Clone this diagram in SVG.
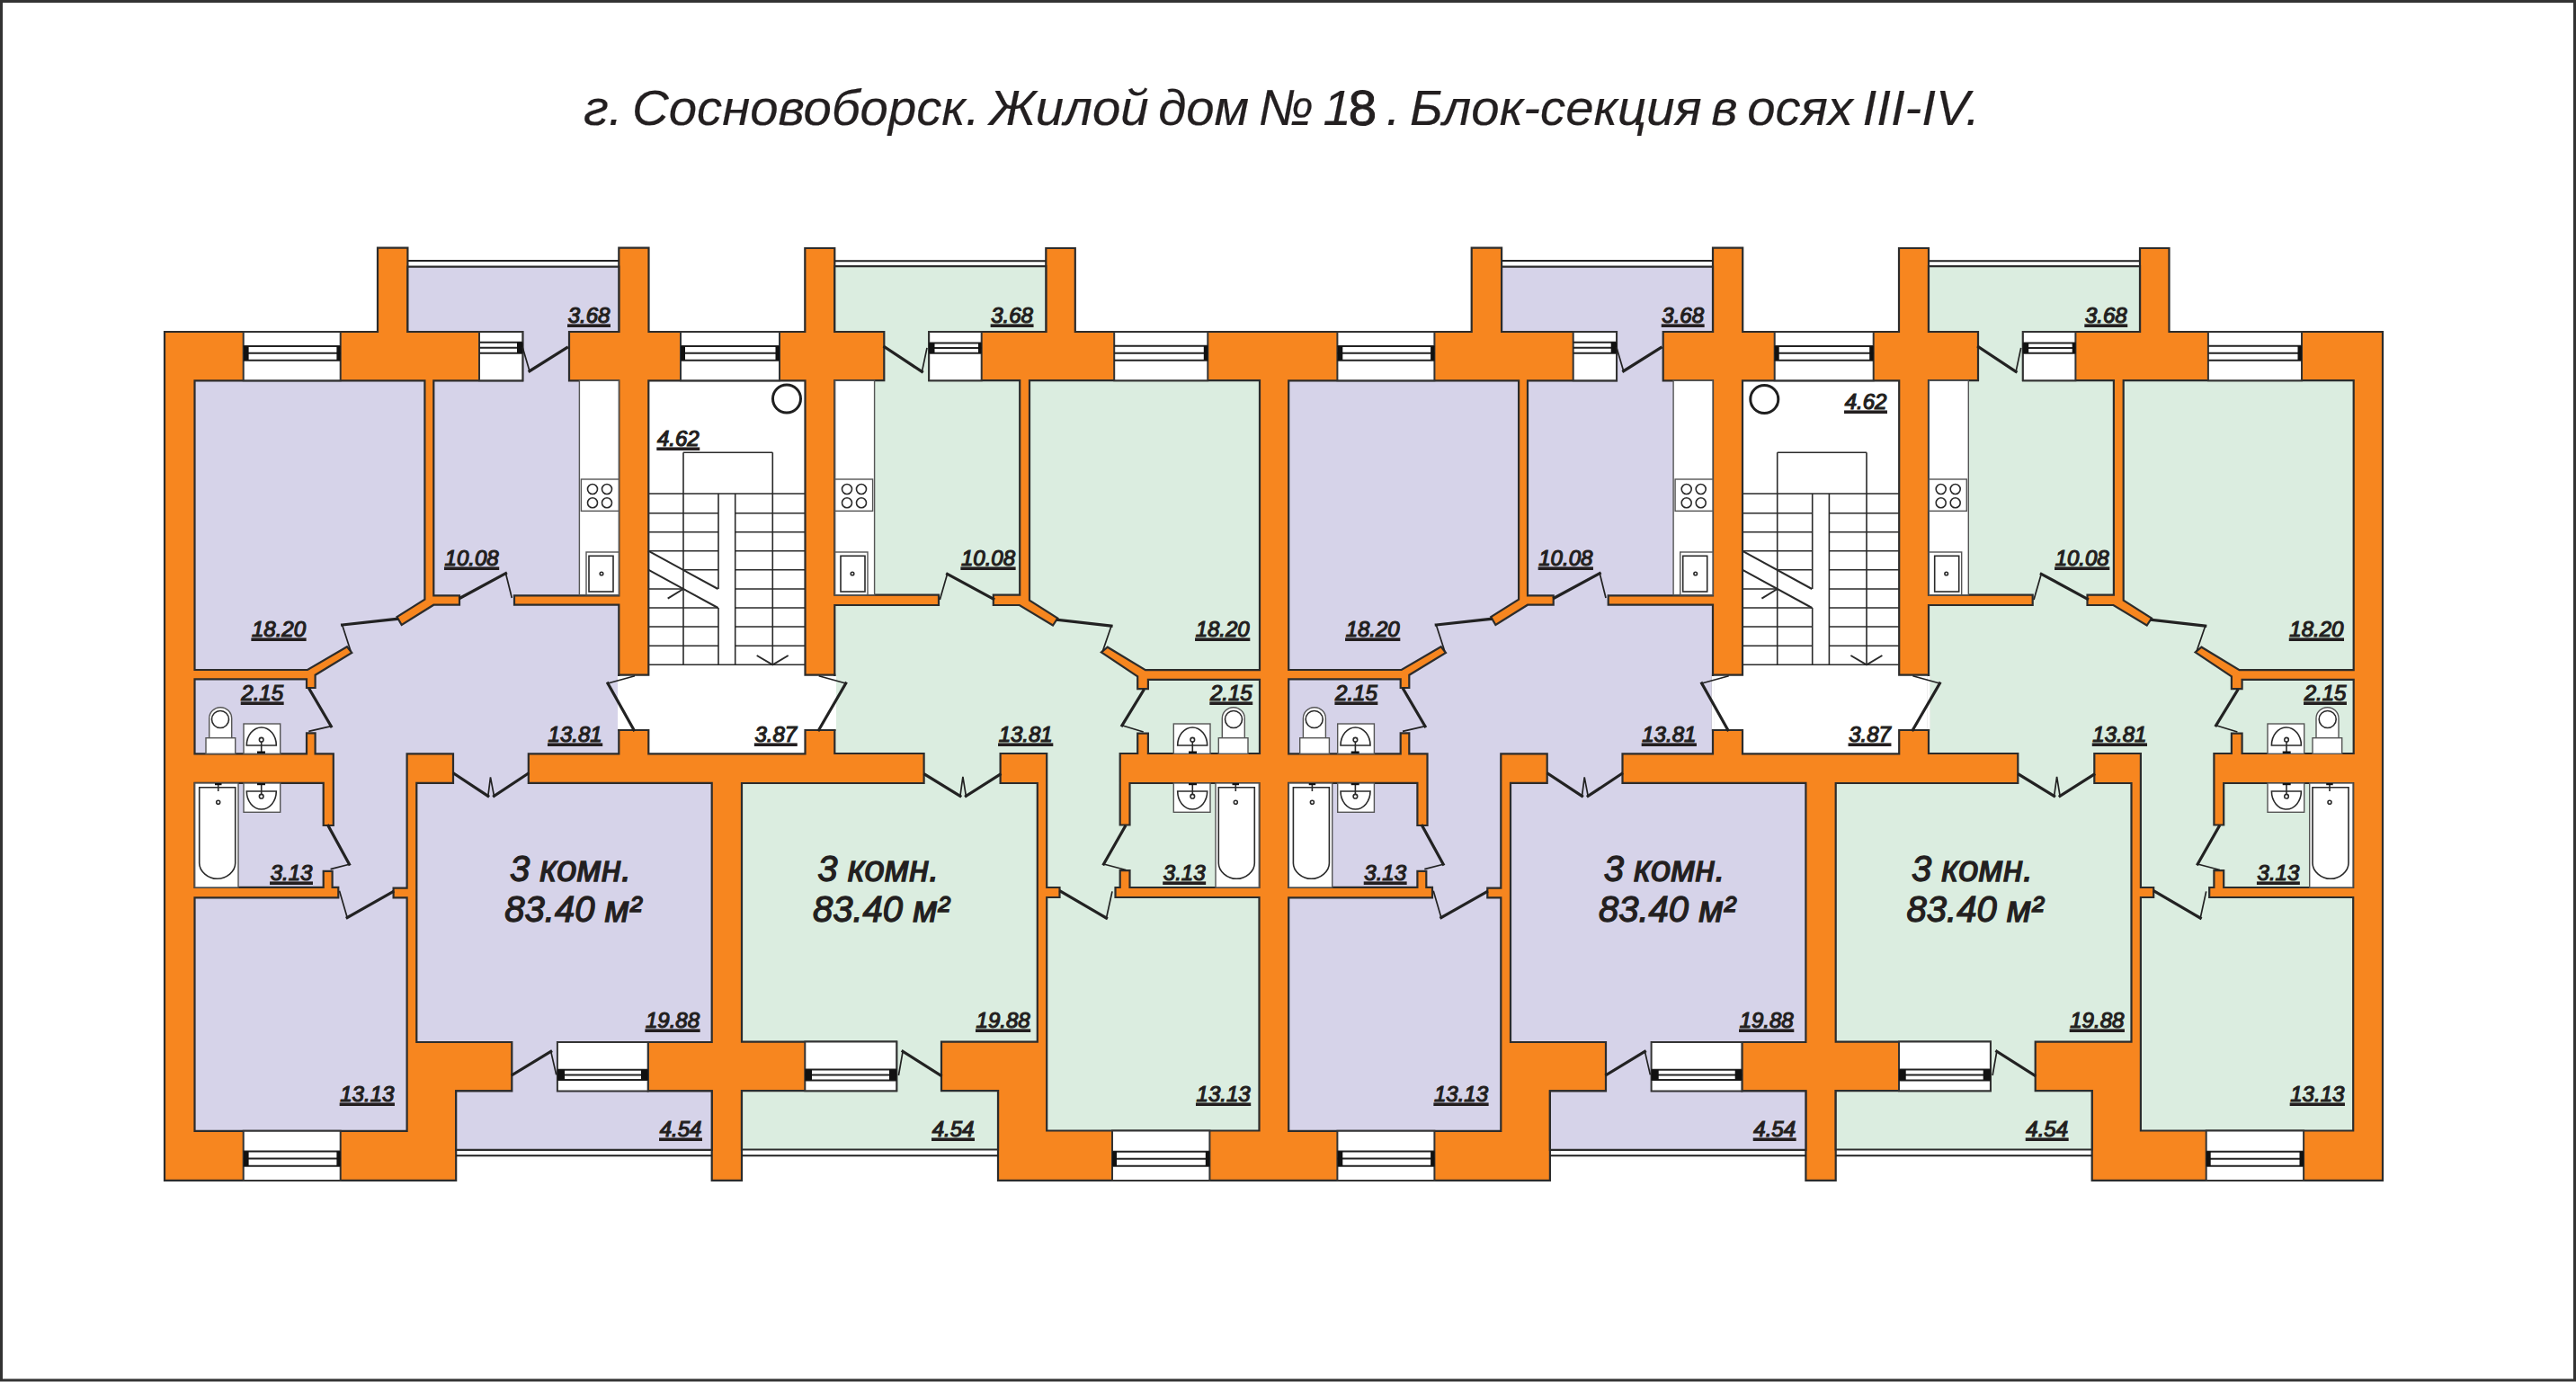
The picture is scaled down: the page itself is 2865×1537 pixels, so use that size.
<svg xmlns="http://www.w3.org/2000/svg" xmlns:xlink="http://www.w3.org/1999/xlink" width="2865" height="1537" viewBox="0 0 2865 1537">
<style>
text{font-family:"Liberation Sans",Arial,sans-serif;font-style:italic;fill:#231f20}
.a{font-size:24px;text-anchor:middle;text-decoration:underline;text-decoration-thickness:2.2px;stroke:#231f20;stroke-width:1.2}
.m{font-size:40px;text-anchor:middle;stroke:#231f20;stroke-width:1.3}
.t{font-size:56.3px;word-spacing:-5px;stroke:#231f20;stroke-width:.2}
.wall{fill:#f7861f;stroke:#2c2c2c;stroke-width:2.2;stroke-linejoin:miter}
.lav{fill:#d6d3e9;stroke:#2c2c2c;stroke-width:2.2}
.grn{fill:#dbede0;stroke:#2c2c2c;stroke-width:2.2}
.lob{fill:#fff;stroke:#2c2c2c;stroke-width:2.2}
.w{fill:#fff;stroke:#333;stroke-width:2}
.f{fill:none;stroke:#222;stroke-width:2}
.c{fill:#111}
.k{fill:#fff;stroke:#555;stroke-width:1.4}
.l{fill:none;stroke:#2a2a2a;stroke-width:1.6}
.dk{fill:none;stroke:#222;stroke-width:3.2;stroke-linecap:square}
.dn{fill:none;stroke:#222;stroke-width:1.7}
</style>
<defs>
<g id="kitchen">
<rect class="k" x="644.4" y="423.3" width="43.9" height="238.4"/>
<rect class="k" x="646.4" y="533" width="41.9" height="35.3"/>
<circle class="l" cx="659" cy="544" r="5.5"/><circle class="l" cx="675" cy="544" r="5.5"/>
<circle class="l" cx="659" cy="559.3" r="5.5"/><circle class="l" cx="675" cy="559.3" r="5.5"/>
<rect class="k" x="652" y="614" width="36.3" height="47.7"/>
<rect class="l" x="655" y="618.3" width="27" height="39.7"/>
<circle class="l" cx="669" cy="638" r="1.8"/>
</g>
<g id="wet">
<path class="k" d="M232.7 820.7V799A12.5 12.3 0 0 1 257.7 799V820.7Z"/>
<circle class="l" cx="245" cy="800" r="9.5"/>
<rect class="k" x="229" y="820.7" width="32.7" height="17.6"/>
<rect class="k" x="271" y="805" width="40.7" height="33.3"/>
<path class="l" d="M274.3 829A16.5 20 0 0 1 307.3 829Z"/>
<circle class="l" cx="290.7" cy="822.7" r="2.3"/>
<path class="l" d="M290.7 825V836"/><path class="c" d="M286 835.5H295V838H286Z"/>
<rect class="k" x="271" y="871" width="40.7" height="32.3"/>
<path class="l" d="M274.3 880H307.3A16.5 20 0 0 1 274.3 880Z"/>
<circle class="l" cx="290.7" cy="885.7" r="2.3"/>
<path class="l" d="M290.7 873V883.4"/><path class="c" d="M286 871H295V873.2H286Z"/>
<rect class="k" x="216.7" y="871" width="48.3" height="116"/>
<path class="l" d="M221.7 875.7H261.7V960C261.7 969 252 977.3 241.7 977.3S221.7 969 221.7 960Z"/>
<circle class="l" cx="242.7" cy="892.3" r="2"/>
<path class="l" d="M242.7 872V880"/><path class="c" d="M239 871H246.5V873.2H239Z"/>
</g>
<g id="stairs">
<path class="l" d="M721 549H895.5M760 503.3H859.3M760 503.3V739.3M859.3 503.3V739.3M799 549V655M799 676V739.3M817.7 549V739.3M721 739.3H895.5
M721 570.7H799M817.7 570.7H895.5M721 591.7H799M817.7 591.7H895.5M721 612.7H799M817.7 612.7H895.5M760 633.7H799M817.7 633.7H895.5M721 655H760M817.7 655H895.5M721 676H799M817.7 676H895.5M721 697H799M817.7 697H895.5M721 718.3H799M817.7 718.3H895.5"/>
<path class="l" style="stroke-width:2" d="M721 612.7L798.5 655M721 633.7L798.5 676M760 655L742.7 665.7M841.7 729L859.3 739.3L876.7 729"/>
</g>
<g id="block">
<g id="flatLav">
<path class="lav" d="M453.4 296.7H688.3V369H633V423.3H688.3V662.3H572V672.7H688.3V838.4H587.8V870.9H791.7V1159H720.7V1213.4H791.7V1278.8H507.2V1213.4H569.3V1159H463.3V870.9H504V838.4H452.6V987.6H437.6V998.3H452.6V1257.8H216.5V998.3H376.3V986.8H369.6V968.9H359.7V986.8H216.5V870.9H359.7V918H370.8V838.4H350.6V815.4H341V838.4H216.5V755.3H341V765H350.6V750.7L391.3 726L386 719.3L342 745H216.5V423.3H472.4V666.7L441.5 686L446.7 695L482.3 672.7H511V662.3H482.3V423.3H581.3V369H453.4Z"/>
<use xlink:href="#kitchen" href="#kitchen"/>
<use xlink:href="#wet" href="#wet"/>
</g>
<g id="flatGrn">
<path class="grn" d="M928.3 296.2H1163.3V369H1033.2V423.2H1134.2V661.7H1104.8V673H1133.8L1171 695.5L1176.3 687.6L1145 667.6V423.2H1401V745.2H1273.9L1231.8 719.7L1224.9 725.5L1265.2 752.4V766.2H1276.9V755.9H1401V838H1276.9V815.7H1265.2V838H1245.7V917.5H1256.5V871H1400.5V987H1256.5V968.2H1245.7V987H1240.5V998H1400.5V1257.5H1164.2V998H1178.5V987H1164.2V838H1112.6V871H1153.8V1158.6H1047V1213.2H1110V1278.5H825V1213.2H997.2V1158.6H825V871H1027.6V838H928.3V673H1044V661.7H928.3V423.2H983.3V369H928.3Z"/>
<g transform="matrix(-1 0 0 1 1617 0)">
<use xlink:href="#kitchen" href="#kitchen"/>
<use xlink:href="#wet" href="#wet"/>
</g>
</g>
<g id="lobby">
<path class="lob" d="M721.3 423.3H895.5V750.7H928.3V812H895.5V838.3H721.3V812H688.3V750.7H721.3Z"/>
<path fill="#fff" d="M687 752H690V811H687ZM927 752H930V811H927Z"/>
<use xlink:href="#stairs" href="#stairs"/>
</g>
<g id="windows">
<path class="w" d="M270.7 369H378.7V423.3H270.7ZM533 369H581.3V423.3H533ZM757 369H867V423.3H757ZM1033.2 369H1091.7V423.2H1033.2ZM1239.2 369H1343.3V423.2H1239.2ZM270.7 1257.8H378.7V1312.9H270.7ZM1237 1257.5H1345.4V1312.9H1237ZM619.9 1159H720.7V1213.4H619.9ZM895.3 1158.6H997.2V1213.2H895.3Z"/>
<path class="f" d="M270.7 385H378.7M270.7 392.8H378.7M270.7 400.7H378.7M533 380.7H581M533 386.7H581M533 392.7H581M757 385H867M757 392.8H867M757 400.7H867M1033.2 381.4H1091.7M1033.2 387H1091.7M1033.2 392.8H1091.7M1239.2 384.8H1343.3M1239.2 392.8H1343.3M1239.2 400.7H1343.3M270.7 1280.4H378.7M270.7 1288.6H378.7M270.7 1296.8H378.7M1237 1280.7H1345.4M1237 1288.8H1345.4M1237 1296.8H1345.4M619.9 1189.7H720.7M619.9 1195.4H720.7M619.9 1201H720.7M895.3 1189.6H997.2M895.3 1195.5H997.2M895.3 1201.4H997.2"/>
<path class="c" d="M271 385H276.6V400.7H271ZM374.4 385H378.7V400.7H374.4ZM575 380.7H581.5V392.7H575ZM862.5 385H867V400.7H862.5ZM757 385H762V400.7H757ZM1033 381.4H1039.5V392.8H1033ZM1088 381.4H1091.7V392.8H1088ZM1338.8 384.8H1343.3V400.7H1338.8ZM271 1280.4H276.6V1296.8H271ZM374.4 1280.4H378.7V1296.8H374.4ZM1237 1280.7H1242V1296.8H1237ZM1340.8 1280.7H1345.4V1296.8H1340.8ZM620 1189.7H628V1201H620ZM713 1189.7H720.7V1201H713ZM895.3 1189.6H903V1201.4H895.3ZM989 1189.6H997.2V1201.4H989Z"/>
</g>
<g id="rails">
<path class="f" d="M453.4 290H688.3M928.3 290.3H1163.3M507.2 1285.3H791.7M825 1285.3H1110"/>
</g>
<g id="doors">
<path class="dk" d="M589 412.7L630.5 386.7M512 665L562.5 637.7M441.5 688.3L380.6 695M344.3 766.7L368.3 807.7M365 918.3L388.5 961.2M386.2 1020.5L436.8 991.8M505.2 860.5L542.8 885.4M549.5 885.4L587 860.5M570 1195.4L612.7 1169.4M676 760L705 811.7M940.7 760L910.7 811.7M983.8 385.9L1025.4 413.4M1053.6 638.3L1104.8 666.2M1176.3 689.3L1236 696.2M1271.7 768L1247.9 806.8M1251.3 919.3L1227.5 961M1179.8 991.4L1230.5 1021M1028.9 861.4L1067.9 885.4M1074.4 885.4L1112.1 861.4M1004.1 1169.3L1046.2 1196"/>
<path class="dn" d="M581.1 386L589 412.7M562.5 637.7L569.3 665M380.6 695L390 724M368.3 807.7L343.3 813.3M388.5 961.2L367.6 966.6M377.5 990.7L386.2 1020.5M542.8 885.4L545.5 864.4L549.5 885.4M612.7 1169.4L618.7 1195.4M706 751.7L676 760M910.7 751.7L940.7 760M1025.4 413.4L1031 386.9M1045.3 667L1053.6 638.3M1236 696.2L1226.2 724.8M1247.9 806.8L1271.7 814M1227.5 961L1252.2 967.5M1230.5 1021L1237 991.4M1067.9 885.4L1070.9 863.9L1074.4 885.4M999.4 1196L1004.1 1169.3"/>
</g>
</g>
</defs>
<rect width="2865" height="1537" fill="#fff"/>
<rect x="1.5" y="1.5" width="2862" height="1533.5" fill="none" stroke="#333" stroke-width="3"/>
<g id="title"><text class="t" x="649" y="139">г. Сосновоборск. Жилой дом № 1<tspan dx="-3" font-style="normal" stroke-width="1">8</tspan> . Блок-секция в осях III-IV.</text></g>
<g id="walls">
<path class="wall" d="M183 369H420V275.7H453.4V369H688.3V275.7H721.5V369H895.3V276H928.3V369H1163.3V276H1195.8V369H1636.7V275.7H1670.1V369H1905V275.7H1938.2V369H2112V276H2145V369H2380V276H2412.5V369H2650V1312.9H2326.7V1213.2H2041.7V1312.9H2008.4V1213.4H1723.9V1312.9H1110V1213.2H825V1312.9H791.7V1213.4H507.2V1312.9H183Z"/>
</g>
<use id="block1" xlink:href="#block" href="#block"/>
<use id="block2" xlink:href="#block" href="#block" x="1216.7"/>
<g id="lifts"><circle cx="875" cy="443.5" r="15.5" fill="none" stroke="#1f1f1f" stroke-width="3"/><circle cx="1962.3" cy="444" r="15.5" fill="none" stroke="#1f1f1f" stroke-width="3"/></g>
<g id="labels1">
<text class="a" x="655" y="359">3.68</text><text class="a" x="1125.6" y="359">3.68</text><text class="a" x="754.3" y="496">4.62</text>
<text class="a" x="524.6" y="629">10.08</text><text class="a" x="1099" y="629">10.08</text><text class="a" x="310" y="708">18.20</text><text class="a" x="1359.7" y="708">18.20</text>
<text class="a" x="291.7" y="779">2.15</text><text class="a" x="1369.3" y="779">2.15</text><text class="a" x="862.8" y="825">3.87</text><text class="a" x="639.6" y="825">13.81</text><text class="a" x="1140.7" y="825">13.81</text>
<text class="a" x="324" y="979">3.13</text><text class="a" x="1317.2" y="979">3.13</text><text class="a" x="748" y="1143">19.88</text><text class="a" x="1115.6" y="1143">19.88</text>
<text class="a" x="408.3" y="1225">13.13</text><text class="a" x="1360.6" y="1225">13.13</text><text class="a" x="757" y="1264">4.54</text><text class="a" x="1060" y="1264">4.54</text>
<text class="m" x="634.5" y="980">3 комн.</text><text class="m" x="637.3" y="1025">83.40 м²</text>
<text class="m" x="976.8" y="980">3 комн.</text><text class="m" x="979.9" y="1025">83.40 м²</text>
</g>
<g id="labels2">
<text class="a" x="1871.7" y="359">3.68</text><text class="a" x="2342.3" y="359">3.68</text><text class="a" x="2075" y="455">4.62</text>
<text class="a" x="1741.3" y="629">10.08</text><text class="a" x="2315.7" y="629">10.08</text><text class="a" x="1526.7" y="708">18.20</text><text class="a" x="2576.4" y="708">18.20</text>
<text class="a" x="1508.4" y="779">2.15</text><text class="a" x="2586" y="779">2.15</text><text class="a" x="2079.5" y="825">3.87</text><text class="a" x="1856.3" y="825">13.81</text><text class="a" x="2357.4" y="825">13.81</text>
<text class="a" x="1540.7" y="979">3.13</text><text class="a" x="2533.9" y="979">3.13</text><text class="a" x="1964.7" y="1143">19.88</text><text class="a" x="2332.3" y="1143">19.88</text>
<text class="a" x="1625" y="1225">13.13</text><text class="a" x="2577.3" y="1225">13.13</text><text class="a" x="1973.7" y="1264">4.54</text><text class="a" x="2276.7" y="1264">4.54</text>
<text class="m" x="1851.2" y="980">3 комн.</text><text class="m" x="1854" y="1025">83.40 м²</text>
<text class="m" x="2193.5" y="980">3 комн.</text><text class="m" x="2196.6" y="1025">83.40 м²</text>
</g>
</svg>
